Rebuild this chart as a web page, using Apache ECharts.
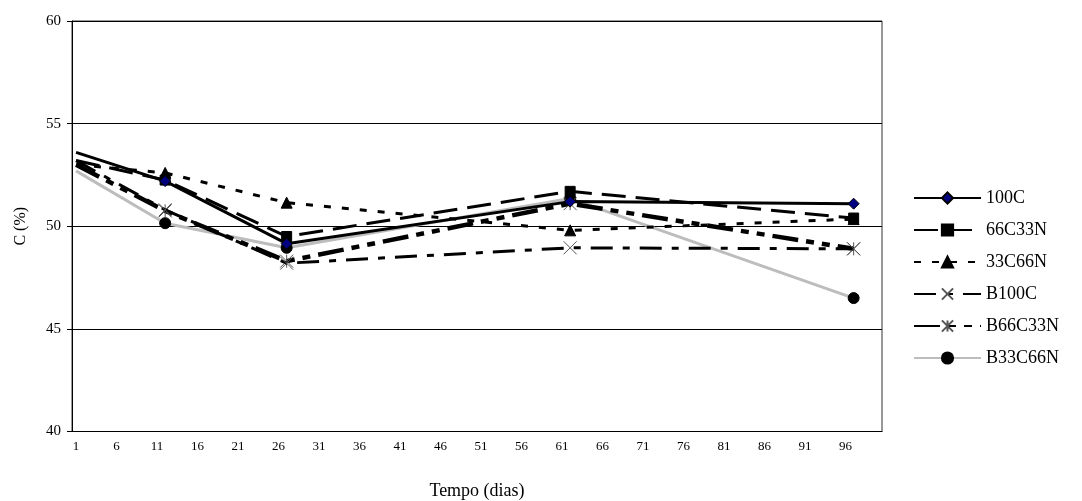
<!DOCTYPE html>
<html>
<head>
<meta charset="utf-8">
<script src="https://cdn.jsdelivr.net/npm/echarts@6/dist/echarts.min.js"></script>
<style>html,body{margin:0;padding:0;background:#fff}#c{width:1082px;height:501px}</style>
</head>
<body>
<div id="c"></div>
<script>
// categories: days 1..100
var days = [];
for (var i = 1; i <= 100; i++) days.push(String(i));
var sampleDays = ['1', '12', '27', '62', '97'];
var seriesNames = ['100C', '66C33N', '33C66N', 'B100C', 'B66C33N', 'B33C66N'];
var v100C    = [53.6, 52.2, 49.15, 51.2, 51.1];
var v66C33N  = [53.2, 52.25, 49.5, 51.7, 50.4];
var v33C66N  = [53.0, 52.6, 51.15, 49.8, 50.35];
var vB100C   = [53.2, 50.8, 48.2, 48.95, 48.9];
var vB66C33N = [53.0, 50.75, 48.3, 51.1, 48.9];
var vB33C66N = [52.7, 50.15, 48.95, 51.35, 46.5];
var yTicks = [40, 45, 50, 55, 60];

function pairs(vals) {
  return sampleDays.map(function (d, k) {
    var item = { value: [d, vals[k]] };
    if (k === 0) item.symbol = 'none';
    return item;
  });
}
var font = 'Liberation Serif';
var X_PATH = 'path://M0,0 L10,10 M10,0 L0,10';
var AST_PATH = 'path://M0,0 L10,10 M10,0 L0,10 M5,0 L5,10';

var styles = [
  { line: { color: '#000', width: 3, type: 'solid' }, symbol: 'diamond', size: 11, item: { color: '#000080', borderColor: '#000', borderWidth: 1 } },
  { line: { color: '#000', width: 3, type: [24, 10] }, symbol: 'rect', size: 10, item: { color: '#000', borderColor: '#000', borderWidth: 1 } },
  { line: { color: '#000', width: 3, type: [7, 11] }, symbol: 'triangle', size: 11, item: { color: '#000', borderColor: '#000', borderWidth: 1 } },
  { line: { color: '#000', width: 3, type: [22, 10, 7, 10] }, symbol: X_PATH, size: 13, item: { color: 'transparent', borderColor: '#555', borderWidth: 1 } },
  { line: { color: '#000', width: 4.5, type: [26, 8, 8, 8, 8, 8] }, symbol: AST_PATH, size: 13, item: { color: 'transparent', borderColor: '#555', borderWidth: 1 } },
  { line: { color: '#bdbdbd', width: 3, type: 'solid' }, symbol: 'circle', size: 11, item: { color: '#000', borderColor: '#000', borderWidth: 1 } }
];
var allVals = [v100C, v66C33N, v33C66N, vB100C, vB66C33N, vB33C66N];

var series = seriesNames.map(function (n, k) {
  var s = styles[k];
  return {
    name: n, type: 'line', data: pairs(allVals[k]),
    symbol: s.symbol, symbolSize: s.size, showAllSymbol: true,
    lineStyle: s.line, itemStyle: s.item, z: 10 - k,
    emphasis: { disabled: true }, animation: false
  };
});

var chart = echarts.init(document.getElementById('c'), null, { renderer: 'canvas' });
chart.setOption({
  animation: false,
  backgroundColor: '#fff',
  grid: { left: 72, right: 200, top: 21, bottom: 69.5, containLabel: false, outerBoundsMode: 'none',
    show: true, borderColor: '#333', borderWidth: 1, backgroundColor: 'transparent' },
  legend: {
    orient: 'vertical', left: 908, top: 184,
    itemWidth: 67, itemHeight: 14, itemGap: 14,
    textStyle: { fontFamily: font, fontSize: 18, color: '#000' },
    data: seriesNames
  },
  xAxis: {
    type: 'category', data: days, boundaryGap: true,
    name: 'Tempo (dias)', nameLocation: 'middle', nameGap: 51,
    nameTextStyle: { fontFamily: font, fontSize: 18, color: '#000' },
    axisLine: { lineStyle: { color: '#000', width: 1 } },
    axisTick: { interval: 4, length: 5, lineStyle: { color: '#000' } },
    axisLabel: { interval: 4, margin: 9, fontFamily: font, fontSize: 13, color: '#000' },
    splitLine: { show: false }
  },
  yAxis: {
    type: 'value', min: 40, max: 60, interval: 5,
    name: 'C (%)', nameLocation: 'middle', nameGap: 43, nameRotate: 90,
    nameTextStyle: { fontFamily: font, fontSize: 16, color: '#000' },
    axisLine: { show: true, lineStyle: { color: '#000', width: 1 } },
    axisTick: { show: true, length: 5, lineStyle: { color: '#000' } },
    axisLabel: { margin: 11, fontFamily: font, fontSize: 15, color: '#000',
      formatter: function (v) { return yTicks.indexOf(v) >= 0 ? String(v) : ''; } },
    splitLine: { show: true, lineStyle: { color: '#000', width: 1 } }
  },
  series: series
});
</script>
</body>
</html>
